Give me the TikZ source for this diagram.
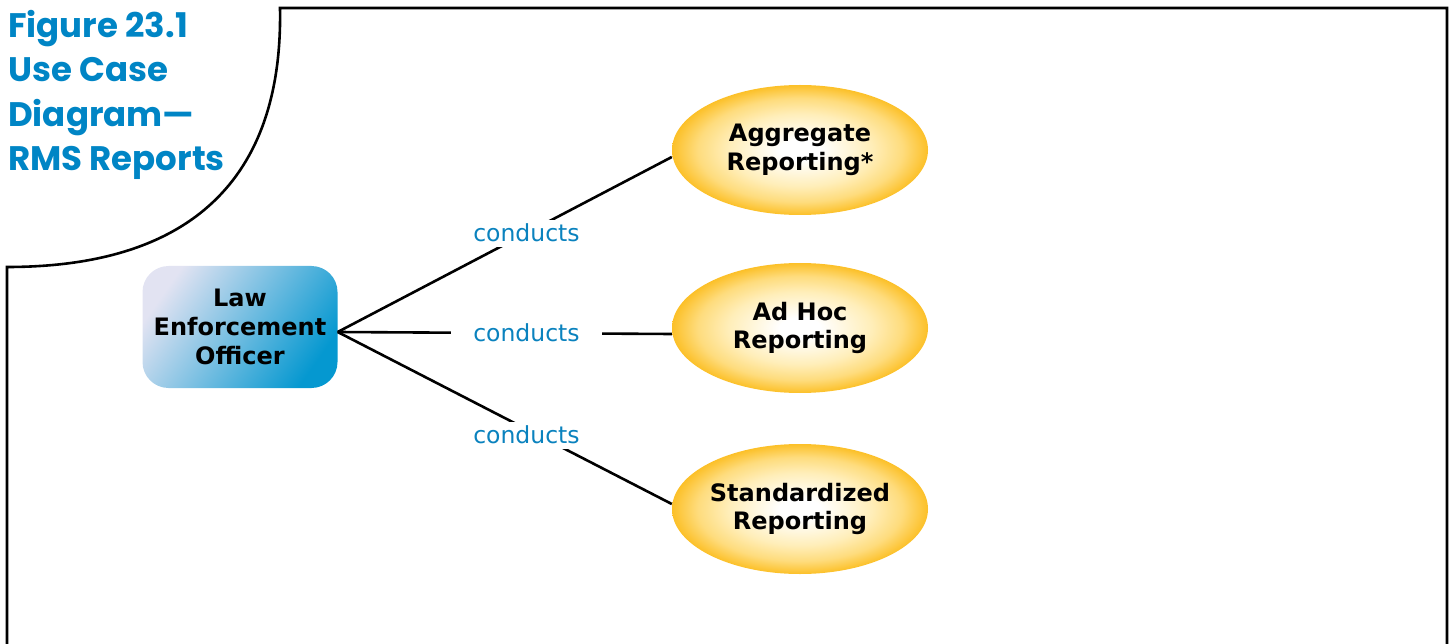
\documentclass[tikz,border=0pt]{standalone}
\usepackage{fontspec}
\setmainfont{DejaVu Sans}
\newfontfamily\titlefont{Poppins}
\usetikzlibrary{shapes.geometric}
\definecolor{titleblue}{RGB}{0,133,197}
\definecolor{lblblue}{RGB}{10,130,190}
\definecolor{actlight}{RGB}{226,227,242}
\definecolor{actdark}{RGB}{5,152,208}
\definecolor{ellgold}{RGB}{252,192,40}
\definecolor{ellmid}{RGB}{254,220,125}
\definecolor{ellpale}{RGB}{255,238,185}
\pgfdeclareradialshading{ellshade}{\pgfpoint{0bp}{0bp}}{color(0bp)=(white); color(4bp)=(white); color(14bp)=(ellpale); color(20bp)=(ellmid); color(25bp)=(ellgold); color(50bp)=(ellgold)}
\tikzset{
  frameline/.style={line width=2.6pt, black},
  conn/.style={line width=2.6pt, black},
  usecase/.style={ellipse, minimum width=256pt, minimum height=130pt, shading=ellshade, inner sep=0pt, align=center, font=\fontsize{24}{28.5}\selectfont\bfseries},
  actorbox/.style={rectangle, rounded corners=26pt, minimum width=195pt, minimum height=122pt, left color=actlight, right color=actdark, shading angle=55, align=center, font=\fontsize{24}{29}\selectfont\bfseries},
  lbl/.style={fill=white, text=lblblue, font=\fontsize{23.5}{28}\selectfont, text height=17pt, text depth=0pt, inner xsep=22pt, inner ysep=5pt},
  titletext/.style={text=titleblue, align=left, font=\fontsize{34}{44.5}\titlefont\bfseries, inner sep=0pt, anchor=north west}
}
\begin{document}
\begin{tikzpicture}[x=1pt, y=-1pt]
\useasboundingbox (0,0) rectangle (1453,644);
% frame
\draw[frameline] (7,648) -- (7,267) .. controls (200,267) and (283,170) .. (280,8) -- (1447,8) -- (1447,648);
% title
\node[titletext] (title) at (8,10) {Figure 23.1\\Use Case\\Diagram—\\RMS Reports};
% nodes
\node[actorbox] (actor) at (240,327) {Law\\Enforcement\\Officer};
\node[usecase] (agg) at (800,150) {Aggregate\\Reporting*};
\node[usecase] (adhoc) at (800,328) {Ad Hoc\\Reporting};
\node[usecase] (std) at (800,509) {Standardized\\Reporting};
% connectors
\draw[conn] ([yshift=-5pt]actor.east) -- node[lbl, pos=0.565] {conducts} ([yshift=-7pt]agg.west);
\draw[conn] ([yshift=-5pt]actor.east) -- node[lbl, pos=0.565] {conducts} ([yshift=-6pt]adhoc.west);
\draw[conn] ([yshift=-5pt]actor.east) -- node[lbl, pos=0.565, yshift=-6pt] {conducts} ([yshift=5pt]std.west);
\end{tikzpicture}
\end{document}
